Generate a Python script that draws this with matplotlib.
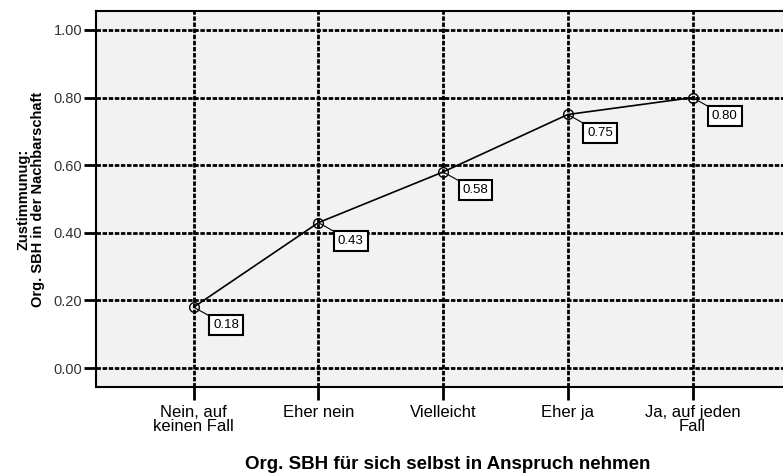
import matplotlib
matplotlib.use("Agg")
import matplotlib.pyplot as plt

categories = ["Nein, auf\nkeinen Fall", "Eher nein", "Vielleicht", "Eher ja", "Ja, auf jeden\nFall"]
values = [0.18, 0.43, 0.58, 0.75, 0.80]
yticks = [0.0, 0.2, 0.4, 0.6, 0.8, 1.0]

plt.rcParams['font.family'] = ['Liberation Sans', 'DejaVu Sans']

W, H = 783, 473
fig = plt.figure(figsize=(W / 100, H / 100), dpi=100)
left_px, right_px, top_px, bot_px = 96, 800, 11, 387
ax = fig.add_axes([left_px / W, (H - bot_px) / H, (right_px - left_px) / W, (bot_px - top_px) / H])
ax.set_facecolor('#f2f2f2')

x = list(range(len(categories)))
spacing = 124.7
x0_px = 193.7
ax.set_xlim(-(x0_px - left_px) / spacing, (right_px - x0_px) / spacing)
y0_px, y1_px = 368, 30
per = (y0_px - y1_px) / 1.0
ax.set_ylim(-(bot_px - y0_px) / per, 1.0 + (y1_px - top_px) / per)

ax.set_xticks(x)
ax.set_xticklabels(categories, fontsize=12, linespacing=0.95)
ax.set_yticks(yticks)
ax.set_yticklabels([f"{v:.2f}" for v in yticks], fontsize=10.5, color='#333333')

ax.grid(True, color='black', linewidth=2.0, linestyle=(0, (1.6, 0.6)))
ax.set_axisbelow(True)
ax.tick_params(axis='both', direction='out', length=9, width=2, color='black', pad=1)
ax.tick_params(axis='x', pad=4)

for s in ['left', 'bottom', 'top']:
    ax.spines[s].set_linewidth(1.5)
ax.spines['right'].set_visible(False)

ax.plot(x, values, color='black', linewidth=1.2, marker='o', markersize=7,
        markerfacecolor='none', markeredgecolor='black', markeredgewidth=1.0, zorder=3)

for xi, v in zip(x, values):
    ax.annotate(f"{v:.2f}", xy=(xi, v), xytext=(14, -13), textcoords='offset points',
                ha='left', va='center', fontsize=9.5,
                bbox=dict(boxstyle='square,pad=0.3', fc='white', ec='black', lw=1.5),
                arrowprops=dict(arrowstyle='-', color='black', lw=0.8, shrinkA=0, shrinkB=0),
                zorder=4)

fig.text(448 / W, 1 - 464 / H, "Org. SBH für sich selbst in Anspruch nehmen",
         ha='center', va='center', fontsize=13.5, fontweight='bold')
fig.text(31 / W, 1 - 199 / H, "Zustimmunug:\nOrg. SBH in der Nachbarschaft",
         ha='center', va='center', rotation=90, fontsize=10.5, fontweight='bold',
         linespacing=1.0)

fig.savefig("out.png", dpi=100)
